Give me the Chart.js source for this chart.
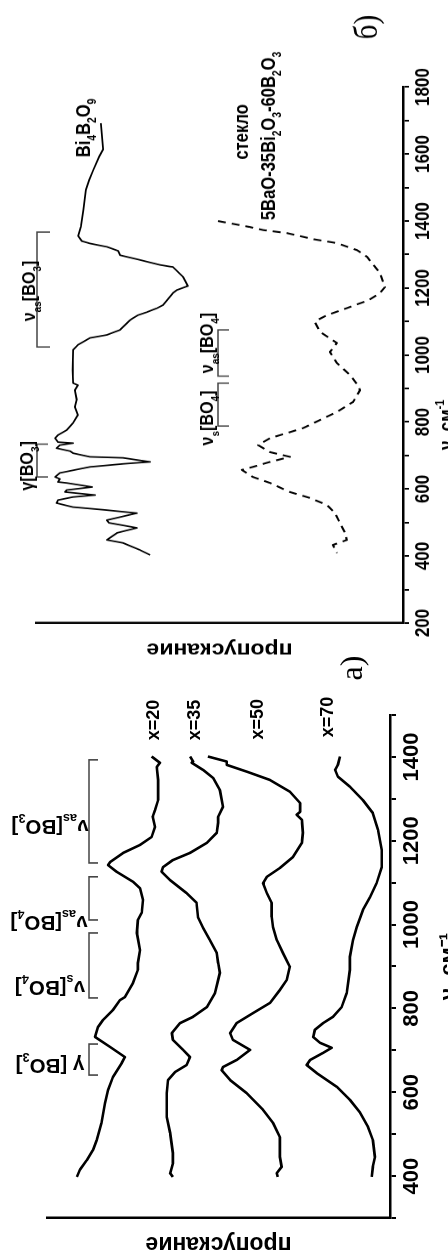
<!DOCTYPE html>
<html><head><meta charset="utf-8">
<script src="https://cdn.jsdelivr.net/npm/chart.js@4.4.0/dist/chart.umd.min.js"></script>
<style>
html,body{margin:0;padding:0;width:448px;height:1258px;overflow:hidden;background:#fff;}
#wrapA{position:absolute;left:0;top:0;width:620px;height:470px;transform-origin:0 0;transform:translate(0px,1258px) rotate(-90deg);}
#wrapB{position:absolute;left:0;top:0;width:800px;height:470px;transform-origin:0 0;transform:translate(0px,680px) rotate(-90deg) scale(0.85,1);}
canvas{display:block;}
</style></head>
<body>
<div id="wrapA"><canvas id="ca" width="620" height="470"></canvas></div>
<div id="wrapB"><canvas id="cb" width="800" height="470"></canvas></div>
<script>
// ---------- DATA ----------
// panel а) : IR spectra, wavenumber (cm-1) and transmission (arb. units)
const wA20 = [1401,1386,1376,1345,1297,1273,1257,1233,1209,1190,1171,1149,1142,1126,1102,1087,1059,1028,1011,980,939,908,892,861,827,820,796,772,756,732,708,684,670,636,605,574,527,486,462,438,415,398];
const tA20 = [69.5,67.1,68.0,67.6,67.6,68.5,69.2,68.5,69.5,72.9,77.8,81.6,82.2,79.7,74.9,72.9,72.0,72.4,73.5,73.8,72.9,73.5,73.5,74.9,77.3,78.7,80.8,83.7,85.1,86.0,81.6,77.3,78.2,80.8,82.2,83.1,84.1,85.5,86.6,88.4,90.4,91.3];
const wA35 = [1401,1389,1386,1369,1350,1321,1281,1257,1243,1219,1195,1171,1154,1137,1126,1106,1075,1052,1018,992,963,932,908,885,837,803,780,765,741,725,701,684,665,648,629,598,541,503,455,431,407,398];
const tA35 = [58.3,57.4,57.8,54.5,51.6,49.6,48.7,50.1,50.1,50.5,53.4,58.3,63.3,66.2,66.6,64.1,59.3,56.4,56.0,54.5,52.5,50.5,50.1,49.6,51.0,53.4,57.4,61.2,63.6,63.3,60.3,58.3,59.3,62.7,64.7,65.1,65.1,64.1,63.3,63.3,64.1,63.3];
const wA50 = [1401,1389,1381,1365,1345,1317,1290,1269,1262,1250,1219,1195,1161,1135,1114,1099,1075,1052,1018,994,963,932,899,868,844,813,789,765,741,725,701,677,660,653,629,598,558,527,493,446,422,407,398];
const tA50 = [53.1,47.6,47.6,41.8,35.0,29.2,26.2,26.2,27.2,25.7,25.4,25.7,28.3,32.1,35.9,37.0,35.9,34.5,34.5,34.1,33.0,31.2,29.2,30.1,32.1,35.0,39.9,44.7,46.6,45.8,40.8,44.7,48.7,49.1,46.6,41.8,37.0,34.1,32.1,32.1,31.6,33.0,32.7];
const wA70 = [1401,1381,1369,1353,1329,1297,1266,1226,1178,1137,1099,1066,1035,994,963,923,892,837,803,780,765,749,732,718,706,694,677,665,646,613,582,551,517,486,446,422,398];
const tA70 = [14.6,15.2,16.0,15.2,11.7,7.9,5.0,3.5,2.4,2.4,3.9,5.8,7.9,9.7,10.8,11.7,11.7,12.6,14.1,16.6,19.5,21.9,22.4,20.4,17.0,19.5,23.3,24.3,21.4,15.5,11.7,8.7,6.4,5.0,4.4,5.0,5.3];
const seriesNamesA = ['x=20','x=35','x=50','x=70'];
const bandRangesA = [[1147,1393],[1011,1114],[825,980],[641,715]];
const bandLabelsA = ['ν_{as}[BO_{3}]','ν_{as}[BO_{4}]','ν_{s}[BO_{4}]','γ [BO_{3}]'];
const tickLabelsA = [400,600,800,1000,1200,1400];

// panel б) : Bi4B2O9 crystal (solid) and glass (dashed)
const wBi = [1692,1614,1592,1552,1522,1493,1433,1383,1355,1340,1333,1323,1311,1298,1284,1269,1264,1263,1233,1206,1194,1185,1149,1140,1128,1119,1110,1104,1075,1060,1051,1030,1015,955,916,910,895,866,845,821,797,776,761,752,740,737,731,722,713,707,696,693,681,675,666,648,636,630,621,618,606,597,591,582,576,567,558,546,537,528,507,499,484,469,448,439,418,403];
const tBi = [82.3,81.7,82.8,84.4,85.5,86.4,87.1,87.8,88.5,87.5,85.3,80.7,77.6,77.1,71.7,66.2,63.5,62.7,59.9,58.6,61.6,62.7,65.4,67.0,69.8,72.2,73.6,74.4,77.1,80.7,85.3,88.6,89.9,90.0,89.9,88.6,89.4,88.9,89.4,88.6,89.9,91.6,94.0,94.8,94.0,89.9,93.5,94.4,90.7,89.9,85.3,76.3,68.9,76.3,85.3,93.5,94.8,93.5,94.0,91.6,84.7,91.6,92.1,83.9,89.9,94.0,94.4,89.9,80.7,72.5,80.7,80.1,72.5,77.9,80.7,76.3,71.7,68.9];
const wGl = [1400,1382,1373,1364,1346,1334,1313,1293,1245,1203,1185,1164,1140,1119,1104,1098,1069,1036,1009,976,940,910,895,860,830,806,782,767,752,731,710,696,681,666,657,636,618,591,573,552,528,499,469,448,433,409];
const tGl = [50.4,41.7,38.1,31.6,24.5,18.0,12.5,9.8,6.3,4.9,6.3,9.3,15.3,20.7,23.4,24.0,22.6,18.0,19.9,18.0,14.4,12.3,11.7,13.6,18.0,22.6,27.2,31.6,36.2,39.5,36.2,30.8,36.2,40.9,43.9,40.9,36.2,30.8,25.3,20.7,18.5,17.2,15.8,15.3,19.1,18.0];
const bandRangesB = [[636,734],[1024,1367],[937,1075],[788,916]];
const bandLabelsB = ['γ[BO_{3}]','ν_{as}[BO_{3}]','ν_{as}[BO_{4}]','ν_{s}[BO_{4}]'];
const sampleLabelsB = ['Bi_{4}B_{2}O_{9}','стекло','5BaO-35Bi_{2}O_{3}-60B_{2}O_{3}'];
const tickLabelsB = [200,400,600,800,1000,1200,1400,1600,1800];

// ---------- helpers ----------
const SANS = "'Liberation Sans', Arial, Helvetica, sans-serif";
const SERIF = "'Liberation Serif', 'Times New Roman', serif";
Chart.defaults.color = '#000';
Chart.defaults.font.family = SANS;
const pts = (w,t) => w.map((x,i)=>({x:x, y:t[i]}));

function parseRich(s){
  const out=[]; let i=0;
  const isMark = k => (s[k]==='_'||s[k]==='^') && s[k+1]==='{';
  while(i<s.length){
    if(isMark(i)){ const j=s.indexOf('}',i); out.push({t:s.slice(i+2,j),k:s[i]}); i=j+1; }
    else { let j=i; while(j<s.length && !isMark(j)) j++; out.push({t:s.slice(i,j),k:''}); i=j; }
  }
  return out;
}
function drawRich(ctx, s, x, y, size, o){
  o = o||{};
  const fam=o.family||SANS, wt=o.weight||'bold', small=size*0.62;
  const segs=parseRich(s);
  let total=0;
  segs.forEach(g=>{ ctx.font=wt+' '+(g.k?small:size)+'px '+fam; g.w=ctx.measureText(g.t).width; total+=g.w; });
  ctx.save(); ctx.translate(x,y); if(o.rot) ctx.rotate(o.rot);
  ctx.textAlign='left'; ctx.textBaseline='alphabetic'; ctx.fillStyle='#000';
  let cx = -total/2;
  segs.forEach(g=>{ ctx.font=wt+' '+(g.k?small:size)+'px '+fam;
    const dy = g.k==='_' ? size*0.3 : (g.k==='^' ? -size*0.45 : 0);
    ctx.fillText(g.t, cx, dy); cx+=g.w; });
  ctx.restore();
}
function bracket(ctx, a, b, q0, q1){
  ctx.beginPath(); ctx.moveTo(a,q1); ctx.lineTo(a,q0); ctx.lineTo(b,q0); ctx.lineTo(b,q1); ctx.stroke();
}

// ---------- panel а ----------
const annA = { id:'annA', afterDraw(chart){
  const ctx=chart.ctx, x=chart.scales.x;
  ctx.save(); ctx.strokeStyle='#444'; ctx.lineWidth=1.6;
  bandRangesA.forEach(r=>bracket(ctx, x.getPixelForValue(r[0]), x.getPixelForValue(r[1]), 89, 98));
  const labW=[1250,1020,866,680], labV=[50,49,50,50];
  bandLabelsA.forEach((s,i)=>drawRich(ctx, s, x.getPixelForValue(labW[i]), labV[i], 20.5, {rot:-Math.PI/2}));
  const nW=[1488,1488,1490,1495], nV=[159,200,263,333];
  seriesNamesA.forEach((s,i)=>drawRich(ctx, s, x.getPixelForValue(nW[i]), nV[i], 18));
  drawRich(ctx, 'а)', x.getPixelForValue(1612), 362, 32, {family:SERIF, weight:'normal'});
  ctx.restore();
}};
const lineDs = (w,t,bw,dash)=>({data:pts(w,t), borderColor:'#000', borderWidth:bw, borderDash:dash||[], pointRadius:0, tension:0, fill:false, borderJoinStyle:'round'});

new Chart(document.getElementById('ca'), {
  type:'line',
  data:{datasets:[lineDs(wA20,tA20,2.6), lineDs(wA35,tA35,2.6), lineDs(wA50,tA50,2.6), lineDs(wA70,tA70,2.6)]},
  options:{
    responsive:false, animation:false, devicePixelRatio:1,
    layout:{padding:{left:0,right:77,top:47,bottom:0}},
    plugins:{legend:{display:false}, tooltip:{enabled:false}},
    scales:{
      x:{type:'linear', min:300, max:1500, afterFit:s=>{s.height=80;},
        ticks:{stepSize:100, autoSkip:false, maxRotation:0, padding:3, font:{size:22, weight:'bold'},
               callback:v=>tickLabelsA.includes(v)?String(v):''},
        grid:{drawOnChartArea:false, drawTicks:true, tickLength:6, lineWidth:2, color:'#000'},
        border:{display:true, width:2.5, color:'#000'},
        title:{display:true, text:'ν, см⁻¹', font:{size:22, weight:'bold'}, padding:{top:0,bottom:8}}},
      y:{type:'linear', min:0, max:100, afterFit:s=>{s.width=40;},
        ticks:{display:false}, grid:{display:false},
        border:{display:true, width:2.5, color:'#000'},
        title:{display:true, text:'пропускание', font:{size:23, weight:'bold'}, padding:{top:1,bottom:0}}}
    }
  },
  plugins:[annA]
});

// ---------- panel б ----------
const annB = { id:'annB', afterDraw(chart){
  const ctx=chart.ctx, x=chart.scales.x;
  ctx.save(); ctx.strokeStyle='#444'; ctx.lineWidth=1.6;
  const bq=[[37,48],[37,50],[218,229],[218,229]];
  bandRangesB.forEach((r,i)=>bracket(ctx, x.getPixelForValue(r[0]), x.getPixelForValue(r[1]), bq[i][0], bq[i][1]));
  const labW=[669,1191,1036,812], labQ=[33,35,213,213];
  bandLabelsB.forEach((s,i)=>drawRich(ctx, s, x.getPixelForValue(labW[i]), labQ[i], 19));
  const sW=[1678,1666,1654], sQ=[90,248,275];
  sampleLabelsB.forEach((s,i)=>drawRich(ctx, s, x.getPixelForValue(sW[i]), sQ[i], 19.5));
  drawRich(ctx, 'ν, см^{-1}', x.getPixelForValue(791), 453, 20);
  drawRich(ctx, 'б)', x.getPixelForValue(1979), 377, 34, {family:SERIF, weight:'normal'});
  ctx.restore();
}};
new Chart(document.getElementById('cb'), {
  type:'line',
  data:{datasets:[lineDs(wBi,tBi,1.8), lineDs(wGl,tGl,2.1,[8,6])]},
  options:{
    responsive:false, animation:false, devicePixelRatio:1,
    layout:{padding:{left:0,right:102.4,top:36,bottom:0}},
    plugins:{legend:{display:false}, tooltip:{enabled:false}},
    scales:{
      x:{type:'linear', min:200, max:1800, afterFit:s=>{s.height=67;},
        ticks:{stepSize:100, autoSkip:false, maxRotation:0, padding:2, font:{size:20, weight:'bold'},
               callback:v=>tickLabelsB.includes(v)?String(v):''},
        grid:{drawOnChartArea:false, drawTicks:true, tickLength:6, lineWidth:2, color:'#000'},
        border:{display:true, width:2.5, color:'#000'}},
      y:{type:'linear', min:0, max:100, afterFit:s=>{s.width=67.06;},
        ticks:{display:false}, grid:{display:false},
        border:{display:true, width:2.5, color:'#000'},
        title:{display:true, text:'пропускание', font:{size:23, weight:'bold'}, padding:{top:22.7,bottom:0}}}
    }
  },
  plugins:[annB]
});
</script>
</body></html>
